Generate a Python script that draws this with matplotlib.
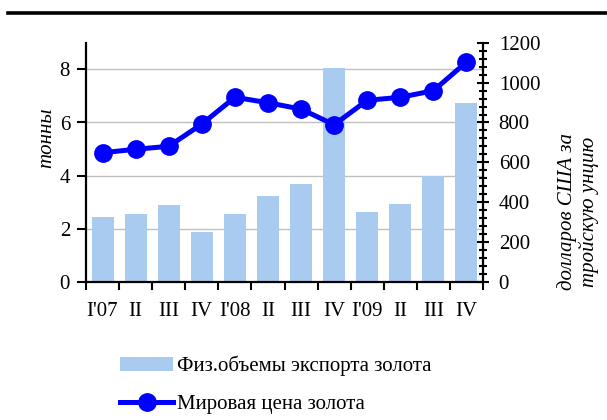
import numpy as np
import matplotlib
matplotlib.use("Agg")
from matplotlib import pyplot as plt
from matplotlib.lines import Line2D
from matplotlib.patches import Patch
from matplotlib.ticker import MultipleLocator

# data
quarters = ["I'07", "II", "III", "IV", "I'08", "II", "III", "IV", "I'09", "II", "III", "IV"]
export_tonnes = [2.46, 2.57, 2.91, 1.89, 2.57, 3.25, 3.70, 8.05, 2.65, 2.95, 4.00, 6.74]
gold_price = [649, 666, 681, 792, 926, 899, 867, 789, 911, 926, 959, 1102]

bar_label = "Физ.объемы экспорта золота"
line_label = "Мировая цена золота"

plt.rcParams["font.family"] = ["Liberation Serif", "DejaVu Serif"]
fs = 15

fig = plt.figure(figsize=(6.07, 4.2), dpi=100)
fig.patch.set_facecolor("white")
ax1 = fig.add_axes([0.1417, 0.3274, 0.6540, 0.5714])
ax2 = ax1.twinx()

x = np.arange(len(quarters))

# bars on left axis
# ================
ax1.bar(x, export_tonnes, width=0.665, color="#a9cbf0", zorder=2)
ax1.set_ylim(0, 9)
ax1.set_xlim(-0.5, len(quarters) - 0.5)
ax1.set_yticks([0, 2, 4, 6, 8])
ax1.yaxis.grid(True, color="#c0c0c0", lw=1.0, zorder=0)
ax1.set_axisbelow(True)
ax1.tick_params(axis="y", direction="out", length=6.5, width=1.5, labelsize=fs, pad=5)

# category ticks between bars, labels in the middle
ax1.set_xticks(np.arange(-0.5, len(quarters), 1))
ax1.set_xticklabels([])
ax1.set_xticks(x, quarters, minor=True)
ax1.tick_params(axis="x", which="major", direction="out", length=6, width=1.5)
ax1.tick_params(axis="x", which="minor", length=0, labelsize=fs, pad=14)

# line on right axis
# ==================
ax2.plot(x, gold_price, color="#0000ff", lw=3.6, marker="o", ms=12.5, zorder=3)
ax2.set_ylim(0, 1200)
ax2.yaxis.set_major_locator(MultipleLocator(200))
ax2.yaxis.set_minor_locator(MultipleLocator(40))
ax2.tick_params(axis="y", which="major", direction="inout", length=8.6, width=1.5, labelsize=fs, pad=7)
ax2.tick_params(axis="y", which="minor", direction="inout", length=5.8, width=1.5)

for a in (ax1, ax2):
    a.spines["top"].set_visible(False)
    for s in ("left", "right", "bottom"):
        a.spines[s].set_linewidth(1.6)
ax2.spines["left"].set_visible(False)
ax2.spines["bottom"].set_visible(False)
ax1.spines["right"].set_visible(False)

# axis titles
fig.text(47 / 607, 1 - 138 / 420, "тонны", rotation=90, style="italic",
         fontsize=fs, ha="center", va="center")
fig.text(578 / 607, 1 - 212 / 420, "долларов США за\nтройскую унцию", rotation=90,
         style="italic", fontsize=fs, ha="center", va="center", linespacing=1.15)

# rule at the top
fig.add_artist(Line2D([8 / 607, 1.0], [1 - 13 / 420, 1 - 13 / 420],
                      color="black", lw=2.6, transform=fig.transFigure))

# legend
handles = [Patch(facecolor="#a9cbf0", edgecolor="none"),
           Line2D([], [], color="#0000ff", lw=3.6, marker="o", ms=12.5)]
fig.legend(handles, [bar_label, line_label], loc="upper left",
           bbox_to_anchor=(120 / 607, 1 - 356 / 420), frameon=False, fontsize=fs,
           handlelength=2.55, handleheight=0.63, handletextpad=0.2, labelspacing=0.9,
           borderaxespad=0, borderpad=0)

fig.savefig("out.png", dpi=100, facecolor="white")
